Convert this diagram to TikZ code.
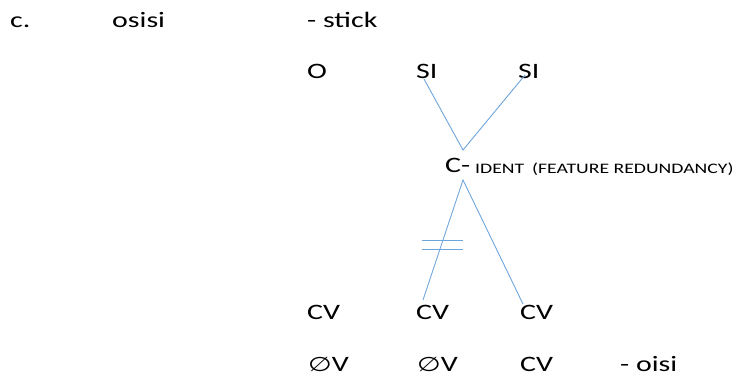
\documentclass[tikz,border=0pt]{standalone}
\usepackage{fontspec}
\usepackage{graphicx}
\setmainfont{Carlito}
\newfontfamily\symfont{DejaVu Sans}
\newcommand{\wtext}[1]{\scalebox{1.36}[1]{#1}}
\newcommand{\wsmall}[1]{\scalebox{1.36}[1]{#1}}
\definecolor{linkblue}{RGB}{110,165,220}
\tikzset{
  lbl/.style={inner sep=0pt, anchor=base west, font=\fontsize{22}{26}\selectfont},
  small/.style={inner sep=0pt, anchor=base west, font=\fontsize{14.5}{17}\selectfont},
  link/.style={draw=linkblue, line width=0.9pt},
}
\begin{document}
\begin{tikzpicture}[x=1pt, y=-1pt]
\useasboundingbox (0,0) rectangle (738,375);
% heading line
\node[lbl] (lab) at (10,27) {\wtext{c.}};
\node[lbl] (word) at (112,27) {\wtext{osisi}};
\node[lbl] (gloss) at (307,27) {\wtext{- stick}};
% melody tier
\node[lbl] (o) at (307,78) {\wtext{O}};
\node[lbl] (si1) at (416,78) {\wtext{SI}};
\node[lbl] (si2) at (518,78) {\wtext{SI}};
% shared consonant
\node[lbl] (c) at (445,172) {\wtext{C-}};
\node[small] (ident) at (475,173) {\wsmall{IDENT}};
\node[small] (note) at (532,173) {\wsmall{(FEATURE REDUNDANCY)}};
% skeletal tier
\node[lbl] (cv1) at (307,319) {\wtext{CV}};
\node[lbl] (cv2) at (416,319) {\wtext{CV}};
\node[lbl] (cv3) at (520,319) {\wtext{CV}};
% output
\node[lbl] (ov1) at (308,371) {\wtext{{\symfont\fontsize{20}{24}\selectfont ∅}V}};
\node[lbl] (ov2) at (417,371) {\wtext{{\symfont\fontsize{20}{24}\selectfont ∅}V}};
\node[lbl] (cv4) at (520,371) {\wtext{CV}};
\node[lbl] (out) at (620,371) {\wtext{- oisi}};
% association line end points
\coordinate (si1b) at ([xshift=8pt,yshift=-1pt]si1.base west);
\coordinate (si2b) at ([xshift=7pt,yshift=3pt]si2.base west);
\coordinate (ctop) at ([xshift=18pt,yshift=22pt]c.base west);
\coordinate (cbot) at ([xshift=18pt,yshift=-8pt]c.base west);
\coordinate (cv2t) at ([xshift=7pt,yshift=19pt]cv2.base west);
\coordinate (cv3t) at ([xshift=3pt,yshift=15pt]cv3.base west);
\draw[link] (si1b) -- (ctop) -- (si2b);
\draw[link] (cv2t) -- (cbot) -- (cv3t);
% delinking marks
\coordinate (d1) at (422,240);
\coordinate (d2) at (422,249);
\draw[link] (d1) -- ++(41,0);
\draw[link] (d2) -- ++(41,0);
\end{tikzpicture}
\end{document}
